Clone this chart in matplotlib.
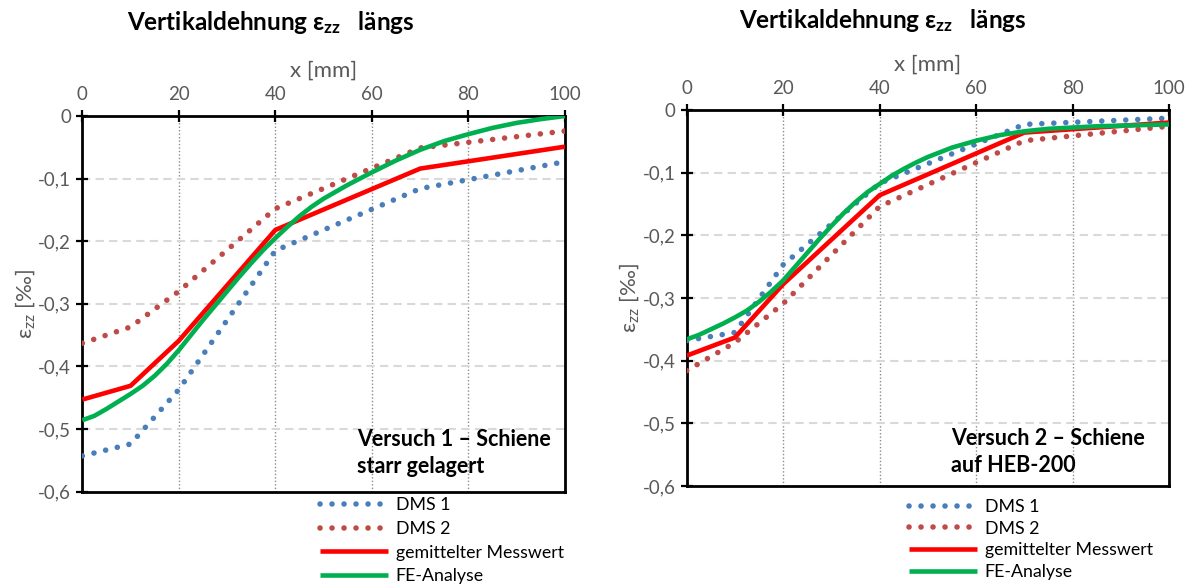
import matplotlib
matplotlib.use("Agg")
import matplotlib.pyplot as plt
from matplotlib.ticker import FixedLocator, FuncFormatter
from matplotlib.lines import Line2D

plt.rcParams['font.family'] = ['Lato', 'DejaVu Sans']
plt.rcParams['mathtext.fontset'] = 'custom'
plt.rcParams['mathtext.rm'] = 'Lato'

# ---- data -------------------------------------------------------------
# measurement positions of the strain gauges
x_dms = [0, 10, 20, 40, 70, 100]

# Versuch 1 - Schiene starr gelagert
v1_dms1 = [-0.543, -0.524, -0.437, -0.215, -0.116, -0.073]
v1_dms2 = [-0.363, -0.337, -0.280, -0.148, -0.051, -0.024]
v1_mittel = [-0.453, -0.431, -0.359, -0.182, -0.084, -0.049]
x_fe = [0, 2.5, 5, 7.5, 10, 12.5, 15, 17.5, 20, 22.5, 25, 27.5, 30, 32.5,
        35, 37.5, 40, 42.5, 45, 47.5, 50, 55, 60, 65, 70, 75, 80, 85, 90,
        95, 100]
v1_fe = [-0.486, -0.479, -0.468, -0.456, -0.444, -0.431, -0.415, -0.396,
         -0.374, -0.350, -0.326, -0.303, -0.280, -0.257, -0.235, -0.214,
         -0.195, -0.177, -0.160, -0.145, -0.132, -0.110, -0.090, -0.071,
         -0.054, -0.040, -0.029, -0.019, -0.011, -0.005, 0.000]

# Versuch 2 - Schiene auf HEB-200
v2_dms1 = [-0.368, -0.355, -0.247, -0.117, -0.023, -0.013]
v2_dms2 = [-0.416, -0.371, -0.309, -0.154, -0.049, -0.026]
v2_mittel = [-0.392, -0.363, -0.278, -0.136, -0.036, -0.020]
v2_fe = [-0.366, -0.359, -0.350, -0.341, -0.331, -0.320, -0.306, -0.290,
         -0.272, -0.250, -0.228, -0.206, -0.185, -0.165, -0.147, -0.131,
         -0.118, -0.105, -0.094, -0.084, -0.075, -0.060, -0.049, -0.040,
         -0.034, -0.030, -0.028, -0.026, -0.025, -0.024, -0.023]

x_ticks = [0, 20, 40, 60, 80, 100]
y_ticks = [0, -0.1, -0.2, -0.3, -0.4, -0.5, -0.6]

labels = ["DMS 1", "DMS 2", "gemittelter Messwert", "FE-Analyse"]
titles = ["Versuch 1 \u2013 Schiene\nstarr gelagert",
          "Versuch 2 \u2013 Schiene\nauf HEB-200"]

# ---- styles -----------------------------------------------------------
C_BLUE = "#4a7ebb"
C_BROWN = "#be4b48"
C_RED = "#ff0000"
C_GREEN = "#00b050"
C_TXT = "#595959"
DOT = dict(lw=4.0, linestyle=(0, (0.01, 2.15)), dash_capstyle='round')
SOLID = dict(lw=3.3, solid_capstyle='butt')

fig = plt.figure(figsize=(11.88, 5.87), dpi=100)
W, H = 1188, 587


def px_axes(l, r, t, b):
    return fig.add_axes([l / W, 1 - b / H, (r - l) / W, (b - t) / H])


def fmt(v, _):
    if abs(v) < 1e-9:
        return "0"
    return ("%.1f" % v).replace(".", ",")


def draw(ax, d1, d2, mittel, fe, note, note_xy, title_x, title_y, leg_xy, leg_sp):
    ax.set_xlim(0, 100)
    ax.set_ylim(-0.6, 0)
    ax.xaxis.set_major_locator(FixedLocator(x_ticks))
    ax.yaxis.set_major_locator(FixedLocator(y_ticks))
    ax.yaxis.set_major_formatter(FuncFormatter(fmt))
    ax.xaxis.tick_top()
    ax.xaxis.set_label_position('top')
    ax.tick_params(axis='both', direction='inout', length=8, width=1.6,
                   colors='black', labelcolor=C_TXT, labelsize=13.5)
    ax.tick_params(axis='x', pad=5)
    ax.tick_params(axis='y', pad=4)
    for s in ax.spines.values():
        s.set_linewidth(2.0)
        s.set_color('black')
    # grid lines
    for xv in x_ticks[1:-1]:
        ax.axvline(xv, color='#8c8c8c', lw=1.0, ls=(0, (1, 1.5)), zorder=0.5)
    for yv in y_ticks[1:-1]:
        ax.axhline(yv, color='#d9d9d9', lw=1.5, ls=(0, (4, 2.5)), zorder=0.5)

    ax.plot(x_dms, d1, color=C_BLUE, **DOT, zorder=3)
    ax.plot(x_dms, d2, color=C_BROWN, **DOT, zorder=3)
    ax.plot(x_dms, mittel, color=C_RED, **SOLID, zorder=4)
    ax.plot(x_fe, fe, color=C_GREEN, **SOLID, zorder=5)

    ax.set_xlabel("x [mm]", color=C_TXT, fontsize=16, labelpad=7)
    ax.set_ylabel(r"$\mathregular{ε_{zz}}$ [‰]", color=C_TXT, fontsize=16,
                  labelpad=1)

    fig.text(note_xy[0] / W, 1 - note_xy[1] / H, note, fontsize=15.5,
             fontweight='bold', color='black', va='top', ha='left',
             linespacing=1.33)
    fig.text(title_x / W, 1 - title_y / H,
             r"Vertikaldehnung $\mathregular{ε_{zz}}$   längs",
             fontsize=17.5, fontweight='bold', ha='center', va='center')

    hd1 = Line2D([], [], color=C_BLUE, **DOT)
    hd2 = Line2D([], [], color=C_BROWN, **DOT)
    hd3 = Line2D([], [], color=C_RED, **SOLID)
    hd4 = Line2D([], [], color=C_GREEN, **SOLID)
    fig.legend([hd1, hd2, hd3, hd4], labels, loc='upper left',
               bbox_to_anchor=(leg_xy[0] / W, 1 - leg_xy[1] / H),
               frameon=False, fontsize=12.8, handlelength=3.8,
               handletextpad=0.45, labelspacing=leg_sp, borderpad=0,
               borderaxespad=0, labelcolor='black')


ax1 = px_axes(82.3, 565, 116, 491.6)
ax2 = px_axes(686.7, 1169, 110, 486)

draw(ax1, v1_dms1, v1_dms2, v1_mittel, v1_fe, titles[0], (357, 429),
     271, 22, (320, 497), 0.44)
draw(ax2, v2_dms1, v2_dms2, v2_mittel, v2_fe, titles[1], (951, 428),
     883, 20, (909, 499), 0.32)

fig.savefig("out.png", dpi=100)
